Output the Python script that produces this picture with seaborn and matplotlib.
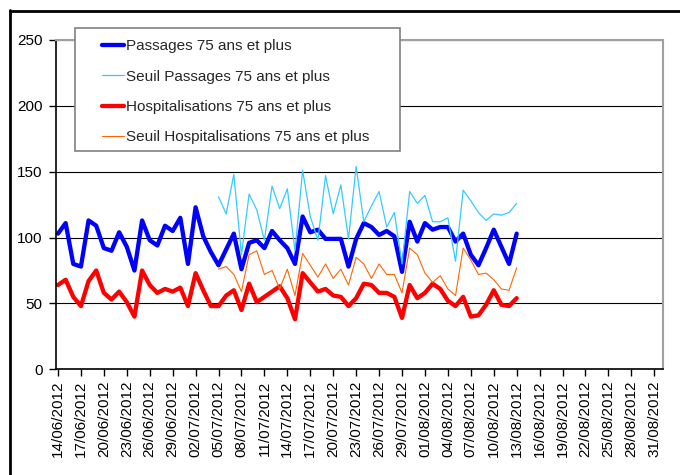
import pandas as pd
import seaborn as sns
import matplotlib.pyplot as plt
import matplotlib.dates as mdates
from matplotlib.lines import Line2D
from matplotlib.patches import Rectangle

# daily values from 14/06/2012 to 13/08/2012
start = '2012-06-14'
passages = [103, 111, 80, 78, 113, 109, 92, 90, 104, 93,
            75, 113, 98, 94, 109, 105, 115, 80, 123, 101, 89,
            79, 91, 103, 76, 96, 98, 92, 105, 98, 92,
            80, 116, 104, 106, 99, 99, 99, 78, 99, 111, 108,
            102, 105, 101, 74, 112, 97, 111, 106, 108,
            108, 97, 103, 87, 79, 92, 106, 93, 80, 103]
hospit = [64, 68, 55, 48, 67, 75, 58, 53, 59, 51,
          40, 75, 64, 58, 61, 59, 62, 48, 73, 60, 48,
          48, 56, 60, 45, 65, 51, 55, 59, 63, 54,
          38, 73, 66, 59, 61, 56, 55, 48, 54, 65, 64,
          58, 58, 55, 39, 64, 54, 58, 65, 61,
          52, 48, 55, 40, 41, 49, 60, 49, 48, 54]

# thresholds start on 05/07/2012
seuil_start = 21
seuil_passages = [131, 118, 148, 87, 133, 121, 98, 139, 122, 137,
                  90, 151, 116, 98, 147, 118, 140, 99, 154, 112,
                  124, 135, 108, 119, 80, 135, 126, 132, 112, 112,
                  115, 82, 136, 128, 119, 113, 118, 117, 119, 126]
seuil_hospit = [76, 78, 72, 59, 87, 90, 72, 75, 61, 76,
                56, 88, 79, 70, 80, 69, 76, 64, 85, 80,
                69, 80, 72, 72, 58, 92, 87, 73, 66, 71,
                61, 56, 92, 83, 72, 73, 68, 61, 60, 77]

dates = pd.date_range(start, periods=len(passages), freq='D')
seuil_dates = dates[seuil_start:]

sns.set_style('white')
plt.rcParams['font.family'] = ['Liberation Sans', 'DejaVu Sans']

W, H = 680, 475
fig = plt.figure(figsize=(6.8, 4.75), dpi=100)
ax = fig.add_axes([56 / W, 1 - 369.3 / H, 606.7 / W, 329.3 / H])

sns.lineplot(x=dates, y=passages, color='#0000FF', linewidth=3.1,
             label='Passages 75 ans et plus', ax=ax)
sns.lineplot(x=seuil_dates, y=seuil_passages, color='#33CCFF', linewidth=0.9,
             label='Seuil Passages 75 ans et plus', ax=ax)
sns.lineplot(x=dates, y=hospit, color='#FF0000', linewidth=3.1,
             label='Hospitalisations 75 ans et plus', ax=ax)
sns.lineplot(x=seuil_dates, y=seuil_hospit, color='#FF6600', linewidth=0.8,
             label='Seuil Hospitalisations 75 ans et plus', ax=ax)

t0 = mdates.date2num(pd.Timestamp(start))
ax.set_xlim(t0 - 0.26, t0 + 79.1)
ax.set_ylim(0, 250)
ax.set_yticks(range(0, 251, 50))
ax.set_xticks(pd.date_range(start, '2012-08-31', freq='3D'))
ax.xaxis.set_major_formatter(mdates.DateFormatter('%d/%m/%Y'))
ax.tick_params(axis='x', rotation=90, labelsize=11, length=5, width=1,
               direction='out', bottom=True, pad=3, colors='black')
ax.tick_params(axis='y', labelsize=11, length=5, width=1,
               direction='out', left=True, pad=4.5, colors='black')
ax.set_xlabel('')
ax.set_ylabel('')

ax.yaxis.grid(True, color='black', linewidth=0.8)
ax.set_axisbelow(True)
for side in ['top', 'right']:
    ax.spines[side].set_color('#A0A0A0')
    ax.spines[side].set_linewidth(1.5)
for side in ['left', 'bottom']:
    ax.spines[side].set_color('black')
    ax.spines[side].set_linewidth(1.2)

ax.legend(loc='upper left', bbox_to_anchor=(102 / W, 1 - 39 / H),
          bbox_transform=fig.transFigure, frameon=False, fontsize=11,
          handlelength=1.45, handletextpad=0.15, labelspacing=1.08,
          borderpad=0, borderaxespad=0)
# legend box: white fill hides the gridlines behind it
ax.add_patch(Rectangle((75 / W, 1 - 151 / H), 325 / W, 123 / H,
                       transform=fig.transFigure, clip_on=False,
                       facecolor='white', edgecolor='#808080', linewidth=1.2,
                       zorder=4))

# screenshot frame
fig.add_artist(Line2D([9.5 / W, 9.5 / W], [0, 1 - 9.5 / H], color='black', linewidth=2))
fig.add_artist(Line2D([9.5 / W, 1], [1 - 10.5 / H, 1 - 10.5 / H], color='black', linewidth=2))

fig.savefig('out.png', dpi=100)
